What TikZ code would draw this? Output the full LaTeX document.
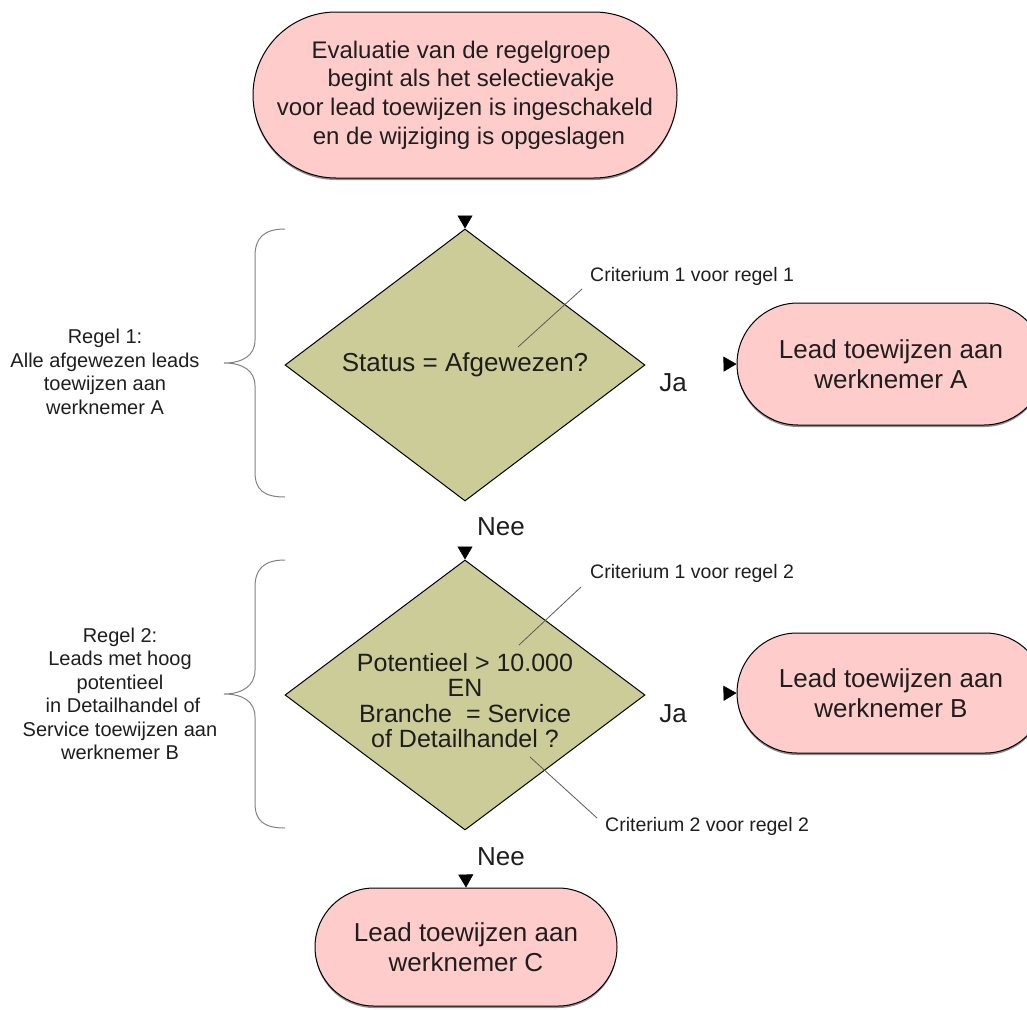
\documentclass[tikz,border=0pt]{standalone}
\usepackage{fontspec}
\setmainfont{Liberation Sans}
\usetikzlibrary{shapes.geometric,arrows.meta,shadows}
\definecolor{pinkfill}{RGB}{255,204,204}
\definecolor{olivefill}{RGB}{204,204,153}
\definecolor{txt}{RGB}{30,30,30}
\definecolor{bracecol}{RGB}{130,130,130}
\definecolor{leadercol}{RGB}{90,90,90}
\begin{document}
\begin{tikzpicture}[x=1pt,y=-1pt,
  term/.style={draw=black, line width=1pt, fill=pinkfill, rectangle, inner sep=0pt,
    align=center, text=txt, font=\fontsize{26}{30}\selectfont,
    drop shadow={shadow xshift=0pt, shadow yshift=-2pt, opacity=0.45, fill=black}},
  decision/.style={draw=black, line width=1pt, fill=olivefill, diamond, aspect=1.32,
    inner sep=0pt, minimum width=360pt, align=center, text=txt},
  conn/.style={draw=white, line width=0.6pt, shorten <=2pt,
    -{Triangle[width=15pt,length=13pt,black]}},
  crit/.style={font=\fontsize{19.5}{22}\selectfont, text=txt, inner sep=0pt},
  rule/.style={font=\fontsize{20}{23.5}\selectfont, text=txt, align=center, inner sep=0pt},
  yesno/.style={font=\fontsize{26}{30}\selectfont, text=txt, inner sep=0pt},
  leader/.style={draw=leadercol, line width=0.8pt},
  bracket/.style={draw=bracecol, line width=1pt}
]
\useasboundingbox (0,0) rectangle (1027,1009);
\clip (0,0) rectangle (1027,1009);

% terminal nodes
\node[term, minimum width=424pt, minimum height=166pt, rounded corners=83pt,
      font=\fontsize{24}{28.8}\selectfont] (start) at (465,95)
  {Evaluatie van de regelgroep\hspace*{8pt}\\\hspace*{12pt}begint als het selectievakje\\voor lead toewijzen is ingeschakeld\\\hspace*{8pt}en de wijziging is opgeslagen};

\node[decision, minimum height=272pt, font=\fontsize{26}{30}\selectfont] (d1) at (465,365)
  {\raisebox{-3pt}{Status = Afgewezen?}};

\node[term, minimum width=308pt, minimum height=122pt, rounded corners=61pt] (ra) at (891,364)
  {Lead toewijzen aan\\werknemer A};

\node[decision, minimum height=270pt, font=\fontsize{25}{25.5}\selectfont] (d2) at (465,695)
  {\rule{0pt}{29pt}Potentieel > 10.000\\EN\\Branche \ = Service\\of Detailhandel ?};

\node[term, minimum width=308pt, minimum height=120pt, rounded corners=60pt] (rb) at (891,693)
  {Lead toewijzen aan\\werknemer B};

\node[term, minimum width=302pt, minimum height=118pt, rounded corners=59pt] (rc) at (466,947)
  {Lead toewijzen aan\\werknemer C};

% connectors (only the arrowheads are visible)
\draw[conn] (start.south) -- (d1.north);
\draw[conn] (d1.east) -- (ra.west);
\draw[conn] (d1.south) -- (d2.north);
\draw[conn] (d2.east) -- (rb.west);
\draw[conn] (d2.south) -- (rc.north);

% yes / no labels
\node[yesno] (ja1) at (673,383) {Ja};
\node[yesno] (ja2) at (673,714) {Ja};
\node[yesno] (nee1) at (501,527) {Nee};
\node[yesno] (nee2) at (501,857) {Nee};

% criteria labels with leader lines
\node[crit, anchor=west] (k1) at (590,276) {Criterium 1 voor regel 1};
\node[crit, anchor=west] (k2) at (590,573) {Criterium 1 voor regel 2};
\node[crit, anchor=west] (k3) at (605,826) {Criterium 2 voor regel 2};
\coordinate (p1) at (518,347);
\coordinate (q1) at (582,289);
\coordinate (p2) at (519,645);
\coordinate (q2) at (581,587);
\coordinate (p3) at (530,757);
\coordinate (q3) at (597,818);
\draw[leader] (p1) -- (q1);
\draw[leader] (p2) -- (q2);
\draw[leader] (p3) -- (q3);

% rule descriptions
\node[rule] (r1) at (105,372)
  {Regel 1:\\Alle afgewezen leads\\toewijzen aan\\werknemer A};
\node[rule] (r2) at (120,694)
  {Regel 2:\\Leads met hoog\\potentieel\\\hspace*{6pt}in Detailhandel of\\Service toewijzen aan\\werknemer B};

% braces
\draw[bracket] (285,229) .. controls (264,229) and (255,238) .. (255,256)
  -- (255,340) .. controls (255,356) and (242,363) .. (224,363)
  .. controls (242,363) and (255,370) .. (255,386)
  -- (255,472) .. controls (255,490) and (264,497) .. (285,497);
\draw[bracket] (285,560) .. controls (264,560) and (255,569) .. (255,587)
  -- (255,670) .. controls (255,686) and (242,694) .. (224,694)
  .. controls (242,694) and (255,701) .. (255,717)
  -- (255,803) .. controls (255,821) and (264,828) .. (285,828);
\end{tikzpicture}
\end{document}
